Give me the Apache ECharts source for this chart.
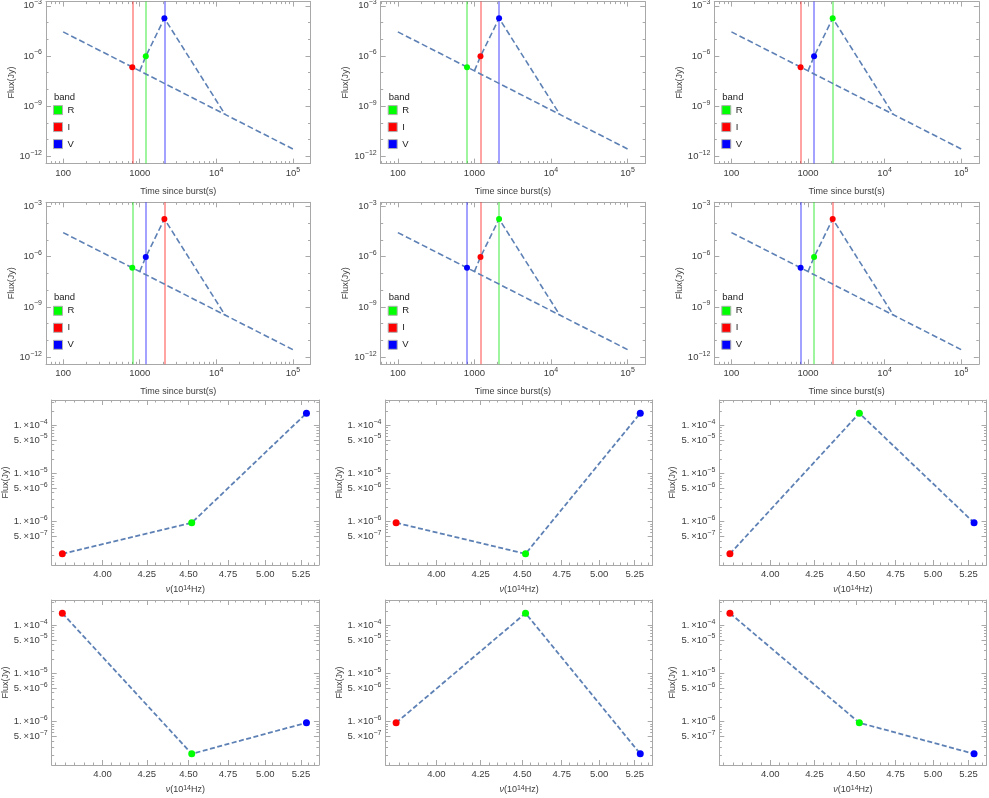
<!DOCTYPE html>
<html><head><meta charset="utf-8">
<script src="https://cdn.jsdelivr.net/npm/echarts@6/dist/echarts.min.js"></script>
<style>html,body{margin:0;padding:0;background:#fff}#c{width:989px;height:798px}</style>
</head><body><div id="c"></div>
<script>
// ---------------- data ----------------
const obsTimes = [800, 1200, 2100];                 // s
const obsFlux = [2.15e-7, 9.5e-7, 1.8e-4];           // Jy at those times
const bandOrders = [
  ['I', 'R', 'V'], ['R', 'I', 'V'], ['I', 'V', 'R'],
  ['R', 'V', 'I'], ['V', 'I', 'R'], ['V', 'R', 'I']
];
const powerLawT = [100, 1000, 13000, 100000];
const powerLawF = [2.75e-5, 1.29e-7, 3.25e-10, 2.8e-12];
const flareT = [1000, 1200, 2100, 13000];
const flareF = [1.29e-7, 9.5e-7, 1.8e-4, 3.25e-10];
const bandNames = ['R', 'I', 'V'];
const sedBands = ['I', 'R', 'V'];
const bandFreq = { I: 3.785, R: 4.52, V: 5.29 };     // 10^14 Hz
const timeTicks = [100, 1000, 10000, 100000];
const timeTickLabels = ['100', '1000', '10{s|4}', '10{s|5}'];
const topFluxTicks = [1e-3, 1e-6, 1e-9, 1e-12];
const topFluxTickLabels = ['10{s|−3}', '10{s|−6}', '10{s|−9}', '10{s|−12}'];
const freqTicks = [4.00, 4.25, 4.50, 4.75, 5.00, 5.25];
const freqTickLabels = ['4.00', '4.25', '4.50', '4.75', '5.00', '5.25'];
const sedFluxTicks = [1e-4, 5e-5, 1e-5, 5e-6, 1e-6, 5e-7];
const sedFluxTickLabels = ['1.\u2009×10{s|−4}', '5.\u2009×10{s|−5}', '1.\u2009×10{s|−5}', '5.\u2009×10{s|−6}', '1.\u2009×10{s|−6}', '5.\u2009×10{s|−7}'];

// ---------------- styles ----------------
const bandColor = { R: '#00ff00', I: '#ff0000', V: '#0000ff' };
const bandLineColor = { R: 'rgba(0,230,0,0.38)', I: 'rgba(255,0,0,0.36)', V: 'rgba(0,0,255,0.36)' };
const LINE = '#5E81B5', AX = '#a8a8a8', TXT = '#3c3c3c', FONT = 'Liberation Sans, Arial, sans-serif';
const RICH = {
  s: { fontSize: 7, lineHeight: 8, verticalAlign: 'top', color: TXT, fontFamily: FONT },
  i: { fontSize: 9, fontStyle: 'italic', color: TXT, fontFamily: FONT }
};

const topRange = { xMin: 59.7, xMax: 1.7e5, yMin: Math.pow(10, -12.43), yMax: Math.pow(10, -2.75) };
const sedRange = { xMin: 3.7303, xMax: 5.381, yMin: Math.pow(10, -6.9), yMax: Math.pow(10, -3.47) };

function logMinor(min, max, ks, skip) {
  const out = [];
  for (let d = -14; d <= 6; d++) ks.forEach(k => {
    const v = k * Math.pow(10, d);
    if (v >= min && v <= max && !skip.some(s => Math.abs(Math.log10(s) - Math.log10(v)) < 1e-6)) out.push(v);
  });
  return out;
}
function linMinor(min, max, step, skip) {
  const out = [];
  for (let v = Math.ceil(min / step) * step; v <= max; v += step) {
    const r = Math.round(v * 1000) / 1000;
    if (!skip.some(s => Math.abs(s - r) < 1e-6)) out.push(r);
  }
  return out;
}
function lab(v, ticks, labels, isLog) {
  for (let i = 0; i < ticks.length; i++) {
    if (isLog ? Math.abs(Math.log10(v) - Math.log10(ticks[i])) < 1e-6 : Math.abs(v - ticks[i]) < 1e-6) return labels[i];
  }
  return '';
}

const grids = [], xAxes = [], yAxes = [], series = [], legends = [], graphics = [];

function addAxes(gi, c) {
  const xi = xAxes.length, yi = yAxes.length;
  const common = { gridIndex: gi, splitLine: { show: false }, minorTick: { show: false }, silent: true };
  const nameStyle = { fontSize: 9, color: TXT, fontFamily: FONT, rich: RICH };
  const labStyle = { color: TXT, fontSize: 9.5, fontFamily: FONT, lineHeight: 14, rich: RICH };
  xAxes.push(Object.assign({}, common, {
    type: c.xType, position: 'bottom', min: c.xMin, max: c.xMax,
    axisLine: { show: true, onZero: false, lineStyle: { color: AX, width: 1 } },
    axisTick: { show: true, inside: true, length: 5, customValues: c.xMajor, lineStyle: { color: AX } },
    axisLabel: Object.assign({ show: true, customValues: c.xMajor, margin: 2.5, verticalAlign: 'top',
      formatter: v => lab(v, c.xMajor, c.xLabels, c.xType === 'log') }, labStyle),
    name: c.xName, nameLocation: 'middle', nameGap: c.xNameGap, nameTextStyle: nameStyle
  }));
  const plain = (type, pos, min, max, vals, len, line) => Object.assign({}, common, {
    type, position: pos, min, max,
    axisLine: { show: !!line, onZero: false, lineStyle: { color: AX, width: 1 } },
    axisTick: { show: true, inside: true, length: len, customValues: vals, lineStyle: { color: AX } },
    axisLabel: { show: false }
  });
  xAxes.push(plain(c.xType, 'bottom', c.xMin, c.xMax, c.xMinor, 2.5, false));
  xAxes.push(plain(c.xType, 'top', c.xMin, c.xMax, c.xMajor, 5, true));
  xAxes.push(plain(c.xType, 'top', c.xMin, c.xMax, c.xMinor, 2.5, false));
  yAxes.push(Object.assign({}, common, {
    type: 'log', position: 'left', min: c.yMin, max: c.yMax,
    axisLine: { show: true, onZero: false, lineStyle: { color: AX, width: 1 } },
    axisTick: { show: true, inside: true, length: 5, customValues: c.yMajor, lineStyle: { color: AX } },
    axisLabel: Object.assign({ show: true, customValues: c.yMajor, margin: 4, verticalAlign: 'middle',
      formatter: v => lab(v, c.yMajor, c.yLabels, true) }, labStyle),
    name: 'Flux(Jy)', nameLocation: 'middle', nameGap: c.yNameGap, nameRotate: 90, nameTextStyle: nameStyle
  }));
  yAxes.push(plain('log', 'left', c.yMin, c.yMax, c.yMinor, 2.5, false));
  yAxes.push(plain('log', 'right', c.yMin, c.yMax, c.yMajor, 5, true));
  yAxes.push(plain('log', 'right', c.yMin, c.yMax, c.yMinor, 2.5, false));
  return { xi, yi };
}

// ---------------- top panels: light curves ----------------
const topLefts = [46, 380.7, 714.3], topTops = [1.6, 202.3], topW = 264.5, topH = 162;
const timeMinor = logMinor(topRange.xMin, topRange.xMax, [1, 2, 3, 4, 5, 6, 7, 8, 9], timeTicks);
const topFluxMinor = logMinor(topRange.yMin, topRange.yMax, [1], topFluxTicks);

bandOrders.forEach((order, p) => {
  const r = Math.floor(p / 3), col = p % 3;
  const L = topLefts[col], T = topTops[r];
  const gi = grids.length;
  grids.push({ left: L, top: T, width: topW, height: topH, outerBoundsMode: 'none', containLabel: false, show: false });
  const { xi, yi } = addAxes(gi, {
    xType: 'log', xMin: topRange.xMin, xMax: topRange.xMax, xMajor: timeTicks, xMinor: timeMinor, xLabels: timeTickLabels,
    xName: 'Time since burst(s)', xNameGap: 23,
    yMin: topRange.yMin, yMax: topRange.yMax, yMajor: topFluxTicks, yMinor: topFluxMinor, yLabels: topFluxTickLabels, yNameGap: 30
  });
  const dashed = { color: LINE, width: 1.6, type: [6, 3] };
  series.push({ type: 'line', xAxisIndex: xi, yAxisIndex: yi, data: powerLawT.map((t, i) => [t, powerLawF[i]]),
    symbol: 'none', showSymbol: false, lineStyle: dashed, silent: true, z: 3 });
  series.push({ type: 'line', xAxisIndex: xi, yAxisIndex: yi, data: flareT.map((t, i) => [t, flareF[i]]),
    symbol: 'none', showSymbol: false, lineStyle: dashed, silent: true, z: 3 });
  order.forEach((b, k) => {
    series.push({ type: 'scatter', name: b, xAxisIndex: xi, yAxisIndex: yi, data: [[obsTimes[k], obsFlux[k]]],
      symbolSize: 6, itemStyle: { color: bandColor[b], opacity: 1 }, z: 5, silent: true,
      markLine: { silent: true, symbol: ['none', 'none'], label: { show: false }, z: 1,
        lineStyle: { color: bandLineColor[b], width: 2, type: 'solid', opacity: 1 }, emphasis: { disabled: true },
        data: [{ xAxis: obsTimes[k] }] } });
  });
  legends.push({ show: true, orient: 'vertical', left: L + 7, top: T + 103.5, padding: 0,
    itemWidth: 9, itemHeight: 9, itemGap: 7, icon: 'rect', selectedMode: false,
    textStyle: { fontSize: 9.5, color: '#222', fontFamily: FONT },
    data: bandNames.map(b => ({ name: b, itemStyle: { color: bandColor[b], opacity: 1, borderColor: '#b0b0b0', borderWidth: 1 } })) });
  graphics.push({ type: 'text', left: L + 8, top: T + 90.5, silent: true,
    style: { text: 'band', fontSize: 9.5, fill: '#222', fontFamily: FONT } });
});

// ---------------- bottom panels: spectra ----------------
const sedLefts = [51.7, 385.5, 719.3], sedTops = [400, 600], sedW = 267.2, sedH = 165;
const freqMinor = linMinor(sedRange.xMin, sedRange.xMax, 0.05, freqTicks);
const sedFluxMinor = logMinor(sedRange.yMin, sedRange.yMax, [1, 2, 3, 4, 5, 6, 7, 8, 9], sedFluxTicks);

bandOrders.forEach((order, p) => {
  const r = Math.floor(p / 3), col = p % 3;
  const L = sedLefts[col], T = sedTops[r];
  const gi = grids.length;
  grids.push({ left: L, top: T, width: sedW, height: sedH, outerBoundsMode: 'none', containLabel: false, show: false });
  const { xi, yi } = addAxes(gi, {
    xType: 'log', xMin: sedRange.xMin, xMax: sedRange.xMax, xMajor: freqTicks, xMinor: freqMinor, xLabels: freqTickLabels,
    xName: '{i|ν}(10{s|14}Hz)', xNameGap: 20,
    yMin: sedRange.yMin, yMax: sedRange.yMax, yMajor: sedFluxTicks, yMinor: sedFluxMinor, yLabels: sedFluxTickLabels, yNameGap: 39
  });
  const fluxOf = {};
  order.forEach((b, k) => { fluxOf[b] = obsFlux[k]; });
  series.push({ type: 'line', xAxisIndex: xi, yAxisIndex: yi, data: sedBands.map(b => [bandFreq[b], fluxOf[b]]),
    symbol: 'none', showSymbol: false, lineStyle: { color: LINE, width: 1.8, type: [5, 2.5] }, silent: true, z: 3 });
  series.push({ type: 'scatter', xAxisIndex: xi, yAxisIndex: yi,
    data: sedBands.map(b => ({ value: [bandFreq[b], fluxOf[b]], itemStyle: { color: bandColor[b], opacity: 1 } })),
    symbolSize: 7, z: 5, silent: true });
});

const chart = echarts.init(document.getElementById('c'), null, { renderer: 'canvas' });
chart.setOption({
  animation: false, backgroundColor: '#fff',
  grid: grids, xAxis: xAxes, yAxis: yAxes, series, legend: legends, graphic: graphics,
  tooltip: { show: false }
});
</script></body></html>
